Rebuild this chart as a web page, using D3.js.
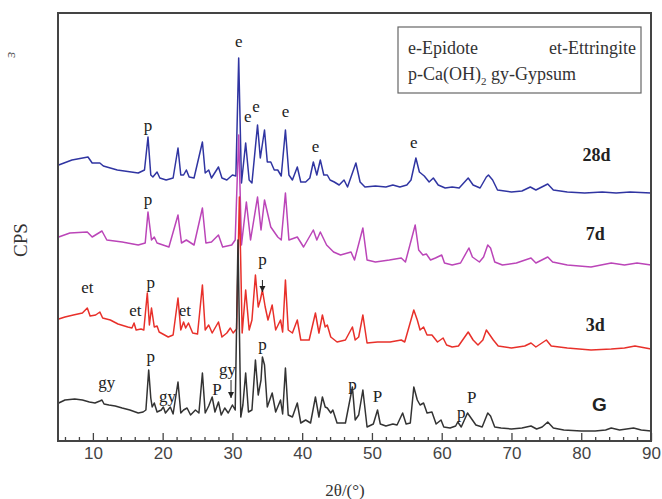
<!DOCTYPE html>
<html>
<head>
<meta charset="utf-8">
<script src="https://cdn.jsdelivr.net/npm/d3@7/dist/d3.min.js"></script>
<style>
body { margin: 0; background: #fff; }
</style>
</head>
<body>
<div id="chart"></div>
<script>
var w = 662;
var h = 499;

// XRD patterns, [2theta, CPS] as plotted (stack offsets included)
var patternG = [[5.1,38],[6,41],[7.4,42],[8.5,41],[9.5,39],[10.3,38],[11.0,40],[11.3,41],[11.6,37],[12.3,36],[13.2,35],[14.2,33],[15.3,31],[16.5,28],[17.2,29],[17.6,31],[18.0,71],[18.3,43],[18.5,34],[18.8,38],[19.2,29],[19.8,31],[20.1,34],[20.4,28],[21.1,34],[21.5,27],[22.2,59],[22.6,28],[23.0,31],[23.5,33],[24.0,26],[24.7,31],[25.2,28],[25.7,68],[26.1,28],[26.6,35],[27.1,44],[27.5,29],[28.0,39],[28.4,26],[28.9,33],[29.4,28],[30.0,36],[30.4,31],[30.8,201],[31.2,24],[31.5,36],[31.9,68],[32.3,29],[32.8,31],[33.3,81],[33.7,46],[34.1,61],[34.3,84],[34.6,76],[35.0,34],[35.7,48],[36.2,29],[36.9,41],[37.2,27],[37.6,73],[38.0,26],[38.6,24],[39.3,38],[39.8,18],[40.5,21],[41.2,18],[41.9,44],[42.4,24],[42.9,44],[43.3,34],[43.6,33],[44.1,28],[44.4,31],[45.0,18],[46.2,18],[47.2,54],[47.6,21],[48.1,26],[48.7,51],[49.3,14],[50.2,17],[50.8,31],[51.2,17],[52.0,15],[53.0,17],[53.6,16],[54.4,28],[54.9,17],[55.5,18],[56.0,54],[56.5,41],[56.9,36],[57.4,38],[57.9,28],[58.6,29],[59.2,17],[59.9,21],[60.3,14],[61.2,13],[62.0,15],[62.3,19],[62.8,14],[63.7,28],[64.2,23],[64.9,16],[65.8,14],[66.6,28],[67.0,25],[67.6,14],[68.5,13],[70.0,12],[71.5,13],[72.8,15],[73.6,12],[74.4,14],[75.2,19],[76.0,13],[77.5,11],[80.0,10],[82.0,10],[83.5,11],[84.3,13],[85.5,11],[86.5,12],[87.5,13],[88.6,11],[90,10]];

var pattern3d = [[5.1,122],[6,124],[7.2,126],[8.5,128],[9.2,133],[9.6,125],[10.4,126],[11.0,129],[11.4,123],[12.5,121],[13.6,117],[15.0,114],[15.6,113],[15.9,118],[16.2,111],[16.9,112],[17.3,111],[17.8,148],[18.1,116],[18.4,133],[18.8,114],[19.2,115],[19.5,109],[20.8,104],[21.5,106],[22.2,143],[22.6,111],[23.0,119],[23.3,113],[23.7,118],[24.3,108],[25.0,107],[25.7,156],[26.1,111],[26.6,116],[27.1,108],[28.0,119],[28.5,104],[29.2,108],[29.7,113],[30.1,108],[30.6,112],[31.0,244],[31.4,108],[31.9,151],[32.4,111],[32.8,121],[33.3,166],[33.7,134],[34.0,141],[34.3,151],[34.7,134],[35.1,121],[35.7,136],[36.2,111],[36.9,121],[37.2,109],[37.6,161],[38.0,111],[38.6,108],[39.3,121],[39.8,101],[41.0,101],[41.9,128],[42.4,108],[42.9,126],[43.3,114],[43.6,116],[44.1,104],[45.0,99],[46.2,101],[47.2,114],[47.6,101],[48.1,104],[48.7,126],[49.3,98],[50.8,99],[52.6,99],[54.2,101],[54.7,99],[56.0,131],[56.5,121],[56.9,111],[57.4,114],[57.9,106],[58.6,106],[59.4,99],[60.2,103],[60.7,96],[61.5,94],[62.4,95],[63.8,109],[64.5,101],[65.2,96],[65.9,101],[66.4,111],[66.9,106],[67.4,101],[68.1,95],[70.0,93],[71.9,95],[72.8,98],[73.5,94],[75.0,101],[75.7,95],[78.0,93],[81.4,91],[84.3,92],[86.2,93],[87.7,95],[90,92]];

var pattern7d = [[5.1,204],[6.7,208],[9.2,209],[9.9,204],[11.3,210],[12.0,201],[14.2,199],[16.5,196],[17.5,198],[17.9,229],[18.4,201],[18.8,204],[19.2,198],[20.9,194],[22.2,226],[22.7,198],[23.4,201],[24.5,196],[25.7,233],[26.2,198],[27.0,199],[28.0,206],[28.6,194],[29.9,196],[30.4,201],[30.9,306],[31.3,196],[32.0,239],[32.6,201],[33.6,244],[34.1,211],[34.6,241],[35.5,214],[36.5,204],[37.0,201],[37.6,248],[38.1,201],[39.3,204],[40.2,194],[41.6,211],[42.1,201],[42.6,209],[43.5,196],[44.5,189],[45.5,186],[47.0,189],[47.5,181],[48.7,213],[49.3,181],[50.5,179],[52.5,181],[54.2,183],[54.8,179],[56.2,216],[56.7,191],[57.3,186],[57.8,187],[58.4,181],[59.1,183],[60.0,186],[60.4,178],[61.5,176],[62.7,178],[63.9,193],[64.4,184],[65.4,179],[66.0,184],[66.6,196],[67.0,193],[67.6,179],[68.7,176],[70.7,178],[72.8,183],[73.5,178],[75.2,184],[75.9,179],[78.0,176],[81.4,174],[84.3,178],[86.2,176],[88.0,178],[90,176]];

var pattern28d = [[5.1,276],[7.0,281],[9.3,284],[9.9,278],[11.0,278],[11.5,275],[13.5,271],[16.5,268],[17.4,271],[17.9,304],[18.3,266],[18.6,264],[19.2,269],[19.6,263],[20.5,261],[21.5,263],[22.2,293],[22.6,266],[23.0,266],[23.4,271],[23.8,264],[24.5,263],[25.7,299],[26.1,268],[26.6,271],[27.0,263],[28.0,274],[28.5,263],[29.2,261],[30.0,266],[30.5,265],[30.9,383],[31.3,258],[31.9,298],[32.4,261],[32.8,258],[33.6,316],[34.0,283],[34.6,311],[35.0,279],[35.5,279],[36.0,271],[36.5,271],[37.0,265],[37.6,311],[38.1,266],[38.6,261],[39.3,274],[39.8,259],[40.5,259],[41.1,263],[41.6,279],[42.1,266],[42.6,281],[43.1,266],[43.6,266],[44.0,261],[44.6,259],[45.3,256],[46.0,261],[46.5,254],[47.7,278],[48.3,259],[49.0,254],[50.5,255],[52.0,254],[53.0,256],[54.0,254],[55.0,256],[55.6,261],[56.3,283],[56.8,269],[57.5,265],[58.2,259],[58.8,263],[59.5,256],[60.5,253],[61.5,254],[62.5,253],[63.8,263],[64.5,256],[65.5,253],[66.4,264],[66.7,266],[67.3,261],[68.0,251],[70.0,249],[71.5,250],[72.7,254],[73.5,251],[75.2,257],[76.0,251],[78.0,249],[80.5,248],[83.0,249],[85.0,248],[87.0,249],[90,248]];

var seriesNames = ['28d', '7d', '3d', 'G'];
var seriesData = [pattern28d, pattern7d, pattern3d, patternG];
var seriesLabelAt = [[82.2, 280], [82.0, 201], [82.0, 110], [82.6, 30]];

// phase marks: [2theta, CPS, text]
var phaseLabels = [
  [30.9, 394, 'e'], [32.2, 319, 'e'], [33.4, 329, 'e'], [37.6, 324, 'e'], [41.9, 289, 'e'], [56.0, 293, 'e'], [17.9, 310, 'p'],
  [17.9, 236, 'p'],
  [9.2, 148, 'et'], [16.1, 125, 'et'], [18.3, 153, 'p'], [23.2, 125, 'et'], [34.3, 176, 'p'],
  [12.0, 53, 'gy'], [18.3, 79, 'p'], [20.7, 39, 'gy'], [27.8, 46, 'P'], [29.3, 66, 'gy'], [34.3, 91, 'p'],
  [47.2, 51, 'p'], [50.8, 39, 'P'], [62.8, 23, 'p'], [64.3, 38, 'P']
];
// down arrows: [2theta, CPS top, CPS bottom]
var arrows = [[34.3, 161, 149], [29.8, 61, 43]];

var xMajorTicks = d3.range(10, 91, 10);
var xMinorTicks = d3.range(6, 90, 2).filter(function(v) { return v % 10 != 0; });

var colors = ['#3035a2', '#bb45b8', '#e8302a', '#333333'];
var serif = '"Liberation Serif", "Times New Roman", serif';
var sans = '"Liberation Sans", Arial, sans-serif';

var svg = d3.select('#chart')
  .append('svg')
  .attr('width', w)
  .attr('height', h)
  .style('background', '#fff');

var x = d3.scaleLinear().domain([5, 90]).range([58, 651]);
var y = d3.scaleLinear().domain([0, 428]).range([441, 13]);

var line = d3.line()
  .x(function(d) { return x(d[0]); })
  .y(function(d) { return y(d[1]); });

svg.selectAll('path.trace')
  .data(seriesData)
  .enter()
  .append('path')
  .attr('class', 'trace')
  .attr('d', line)
  .attr('fill', 'none')
  .attr('stroke', function(d, i) { return colors[i]; })
  .attr('stroke-width', 1.5)
  .attr('stroke-linejoin', 'round');

// frame
svg.append('rect')
  .attr('x', x(5))
  .attr('y', y(428))
  .attr('width', x(90) - x(5))
  .attr('height', y(0) - y(428))
  .attr('fill', 'none')
  .attr('stroke', '#444')
  .attr('stroke-width', 2);

var axisMajor = svg.append('g')
  .attr('transform', 'translate(0,' + y(0) + ')')
  .call(d3.axisBottom(x).tickValues(xMajorTicks).tickSize(-8).tickPadding(6));
axisMajor.select('.domain').remove();
axisMajor.selectAll('line').attr('stroke', '#444').attr('stroke-width', 1.3);
axisMajor.selectAll('text')
  .attr('fill', '#444')
  .style('font-family', sans)
  .style('font-size', '17px');

var axisMinor = svg.append('g')
  .attr('transform', 'translate(0,' + y(0) + ')')
  .call(d3.axisBottom(x).tickValues(xMinorTicks).tickSize(-4).tickFormat(''));
axisMinor.select('.domain').remove();
axisMinor.selectAll('line').attr('stroke', '#444').attr('stroke-width', 1.3);

svg.append('text')
  .attr('x', 345)
  .attr('y', 496)
  .attr('text-anchor', 'middle')
  .style('font-family', serif)
  .style('font-size', '17px')
  .attr('fill', '#333')
  .text('2θ/(°)');

svg.append('text')
  .attr('transform', 'translate(27,240) rotate(-90)')
  .attr('text-anchor', 'middle')
  .style('font-family', serif)
  .style('font-size', '19px')
  .attr('fill', '#333')
  .text('CPS');

// stray glyph at top left of the scan
svg.append('text')
  .attr('transform', 'translate(8,55) rotate(90)')
  .attr('text-anchor', 'middle')
  .style('font-family', serif)
  .style('font-size', '15px')
  .attr('fill', '#555')
  .text('ε');

svg.selectAll('text.series')
  .data(seriesNames)
  .enter()
  .append('text')
  .attr('class', 'series')
  .attr('x', function(d, i) { return x(seriesLabelAt[i][0]); })
  .attr('y', function(d, i) { return y(seriesLabelAt[i][1]); })
  .attr('text-anchor', 'middle')
  .style('font-family', function(d) { return d == 'G' ? sans : serif; })
  .style('font-size', function(d) { return d == 'G' ? '19px' : '18px'; })
  .style('font-weight', 'bold')
  .attr('fill', '#222')
  .text(function(d) { return d; });

svg.selectAll('text.phase')
  .data(phaseLabels)
  .enter()
  .append('text')
  .attr('class', 'phase')
  .attr('x', function(d) { return x(d[0]); })
  .attr('y', function(d) { return y(d[1]); })
  .attr('text-anchor', 'middle')
  .style('font-family', serif)
  .style('font-size', '17px')
  .attr('fill', '#222')
  .text(function(d) { return d[2]; });

arrows.forEach(function(a) {
  var ax = x(a[0]);
  svg.append('line')
    .attr('x1', ax).attr('x2', ax)
    .attr('y1', y(a[1])).attr('y2', y(a[2]))
    .attr('stroke', '#222').attr('stroke-width', 1);
  svg.append('path')
    .attr('d', 'M' + (ax - 3) + ',' + (y(a[2]) - 6) + 'L' + (ax + 3) + ',' + (y(a[2]) - 6) + 'L' + ax + ',' + y(a[2]) + 'Z')
    .attr('fill', '#222');
});

// legend
var legend = svg.append('g');
legend.append('rect')
  .attr('x', 398)
  .attr('y', 27)
  .attr('width', 243)
  .attr('height', 66)
  .attr('fill', '#fff')
  .attr('stroke', '#666')
  .attr('stroke-width', 1.2);
legend.append('text')
  .attr('x', 408).attr('y', 54)
  .style('font-family', serif).style('font-size', '18px').attr('fill', '#333')
  .text('e-Epidote');
legend.append('text')
  .attr('x', 636).attr('y', 54)
  .attr('text-anchor', 'end')
  .style('font-family', serif).style('font-size', '18px').attr('fill', '#333')
  .text('et-Ettringite');
var l2 = legend.append('text')
  .attr('x', 408).attr('y', 80)
  .style('font-family', serif).style('font-size', '18px').attr('fill', '#333');
l2.append('tspan').text('p-Ca(OH)');
l2.append('tspan').attr('dy', 5).style('font-size', '11px').text('2');
l2.append('tspan').attr('dy', -5).text(' gy-Gypsum');
</script>
</body>
</html>
